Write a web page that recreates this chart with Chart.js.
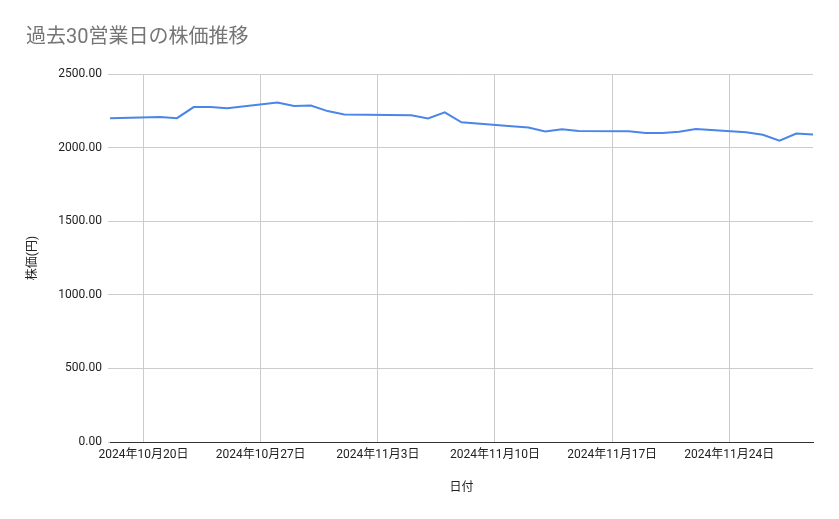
<!DOCTYPE html>
<html lang="ja">
<head>
<meta charset="utf-8">
<title>過去30営業日の株価推移</title>
<script src="https://cdn.jsdelivr.net/npm/chart.js@4.4.1/dist/chart.umd.min.js"></script>
<style>
  html, body { margin: 0; padding: 0; background: #fff; }
  canvas { display: block; }
</style>
</head>
<body>
<canvas id="stockChart" width="839" height="519"></canvas>
<script>
// business days shown on the chart
const dates = [
  "2024-10-18", "2024-10-21", "2024-10-22", "2024-10-23", "2024-10-24", "2024-10-25",
  "2024-10-28", "2024-10-29", "2024-10-30", "2024-10-31", "2024-11-01",
  "2024-11-05", "2024-11-06", "2024-11-07", "2024-11-08",
  "2024-11-11", "2024-11-12", "2024-11-13", "2024-11-14", "2024-11-15",
  "2024-11-18", "2024-11-19", "2024-11-20", "2024-11-21", "2024-11-22",
  "2024-11-25", "2024-11-26", "2024-11-27", "2024-11-28", "2024-11-29"
];

// closing price (円)
const prices = [
  2200, 2208, 2200, 2275, 2275, 2268,
  2307, 2282, 2286, 2248, 2225,
  2219, 2198, 2239, 2172,
  2145, 2136, 2109, 2124, 2113,
  2111, 2100, 2100, 2108, 2126,
  2104, 2087, 2047, 2096, 2089
];

// x axis range and tick dates
const axisStart = "2024-10-18";
const axisEnd = "2024-11-29";
const tickDates = ["2024-10-20", "2024-10-27", "2024-11-03", "2024-11-10", "2024-11-17", "2024-11-24"];

// y axis ticks
const yTicks = [0, 500, 1000, 1500, 2000, 2500];

const DAY = 86400000;
const dayOf = (d) => (Date.parse(d) - Date.parse(axisStart)) / DAY;
const labelOf = (d) => {
  const [y, m, dd] = d.split("-").map(Number);
  return y + "年" + m + "月" + dd + "日";
};

const points = dates.map((d, i) => ({ x: dayOf(d), y: prices[i] }));
const tickDays = tickDates.map(dayOf);

const FONT = "Roboto, 'Noto Sans CJK JP', sans-serif";
const GRID = "#cccccc";

new Chart(document.getElementById("stockChart"), {
  type: "line",
  data: {
    datasets: [{
      label: "株価",
      data: points,
      borderColor: "#4a86e8",
      borderWidth: 2,
      pointRadius: 0,
      pointHoverRadius: 0,
      tension: 0,
      fill: false
    }]
  },
  options: {
    responsive: false,
    animation: false,
    layout: { padding: { left: 26, right: 26, top: 0, bottom: 0 } },
    plugins: {
      legend: { display: false },
      tooltip: { enabled: false },
      title: {
        display: true,
        text: "過去30営業日の株価推移",
        align: "start",
        color: "#757575",
        font: { family: FONT, size: 20, weight: "normal" },
        padding: { top: 26, bottom: 24 }
      }
    },
    scales: {
      x: {
        type: "linear",
        min: dayOf(axisStart),
        max: dayOf(axisEnd),
        afterBuildTicks: (scale) => {
          scale.ticks = tickDays.map((v) => ({ value: v }));
        },
        afterFit: (scale) => { scale.height = 77; },
        grid: { color: GRID, drawTicks: false },
        border: { display: true, color: "#333333", width: 1 },
        ticks: {
          autoSkip: false,
          maxRotation: 0,
          padding: 6,
          color: "#222222",
          font: { family: FONT, size: 12 },
          callback: (v) => {
            const i = tickDays.indexOf(v);
            return i >= 0 ? labelOf(tickDates[i]) : "";
          }
        },
        title: {
          display: true,
          text: "日付",
          color: "#222222",
          font: { family: FONT, size: 12 },
          padding: { top: 0, bottom: 24 }
        }
      },
      y: {
        min: 0,
        max: 2500,
        afterBuildTicks: (scale) => {
          scale.ticks = yTicks.map((v) => ({ value: v }));
        },
        afterFit: (scale) => { scale.width = 84; },
        grid: { color: GRID, tickLength: 2 },
        border: { display: false },
        ticks: {
          padding: 6,
          color: "#222222",
          font: { family: FONT, size: 12 },
          callback: (v) => Number(v).toFixed(2)
        },
        title: {
          display: true,
          text: "株価(円)",
          color: "#222222",
          font: { family: FONT, size: 12 },
          padding: { top: 0, bottom: 0 }
        }
      }
    }
  }
});
</script>
</body>
</html>
